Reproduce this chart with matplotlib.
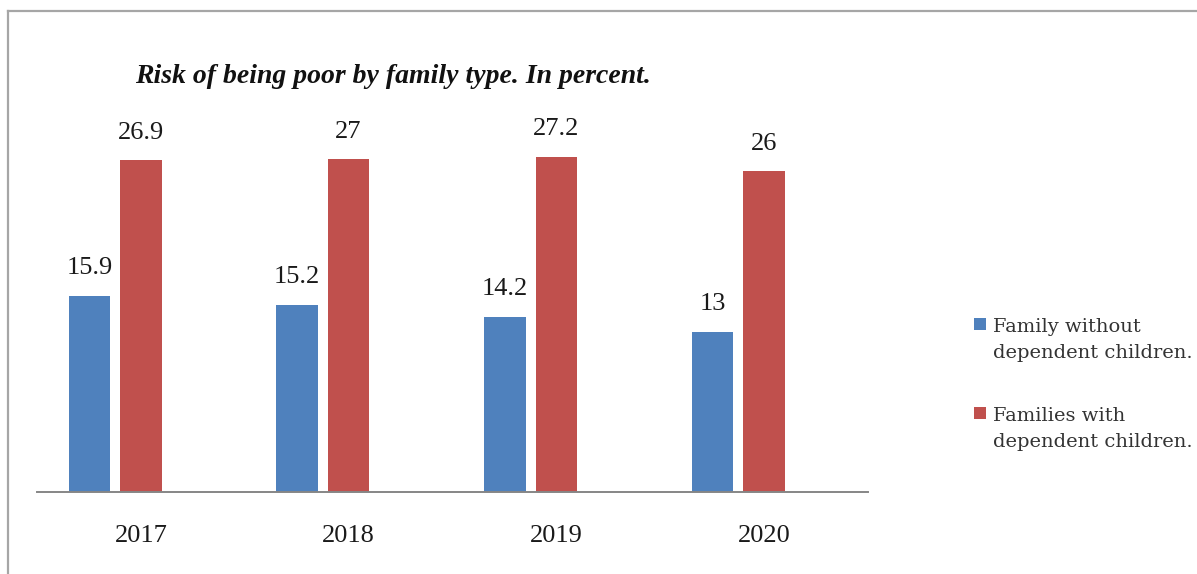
#!/usr/bin/env python
# coding: utf-8

"""Risk of being poor by family type, grouped bar chart."""

import matplotlib
matplotlib.use("Agg")
import matplotlib.pyplot as plt
from matplotlib.lines import Line2D
from matplotlib.patches import Rectangle
import numpy as np

years = ["2017", "2018", "2019", "2020"]
without_children = [15.9, 15.2, 14.2, 13]
with_children = [26.9, 27, 27.2, 26]
series_names = ["Family without\ndependent children.", "Families with\ndependent children."]

BLUE = "#4F81BD"
RED = "#C0504D"
W, H = 1197, 574


def fmt(v: float) -> str:
    return f"{v:g}"


def main() -> None:
    fig = plt.figure(figsize=(W / 100, H / 100), dpi=100)
    fig.patch.set_facecolor("white")

    # outer chart frame (only left and top edges visible in the crop)
    frame_kw = dict(color="#A6A6A6", lw=1.6, transform=fig.transFigure)
    fig.add_artist(Line2D([8 / W, 8 / W], [0, 1 - 11 / H], **frame_kw))
    fig.add_artist(Line2D([8 / W, 1], [1 - 11 / H, 1 - 11 / H], **frame_kw))

    ax = fig.add_axes([37 / W, 1 - 492 / H, 831 / W, 392 / H])
    x = np.arange(len(years))
    width = 0.2
    b1 = ax.bar(x - 0.248, without_children, width, color=BLUE)
    b2 = ax.bar(x, with_children, width, color=RED)

    for bars, vals in ((b1, without_children), (b2, with_children)):
        for rect, v in zip(bars, vals):
            ax.annotate(
                fmt(v),
                (rect.get_x() + rect.get_width() / 2, rect.get_height()),
                xytext=(0, 12),
                textcoords="offset points",
                ha="center",
                va="bottom",
                fontsize=19,
                family="Liberation Serif",
                color="#1a1a1a",
            )

    ax.set_xlim(-0.5, len(years) - 0.5)
    ax.set_ylim(0, 31.8)
    ax.set_xticks(x)
    ax.set_xticklabels(years, family="Liberation Serif", fontsize=19, color="#1a1a1a")
    ax.tick_params(axis="x", length=0, pad=24)
    ax.set_yticks([])
    for side in ("left", "right", "top"):
        ax.spines[side].set_visible(False)
    ax.spines["bottom"].set_color("#868686")
    ax.spines["bottom"].set_linewidth(1.4)

    fig.text(
        135 / W,
        1 - 83 / H,
        "Risk of being poor by family type. In percent.",
        family="Liberation Serif",
        fontsize=20,
        fontweight="bold",
        fontstyle="italic",
        ha="left",
        va="baseline",
        color="#111111",
    )

    # legend drawn by hand: square sits beside the first line, as in the source
    for color, label, top in ((BLUE, series_names[0], 318), (RED, series_names[1], 407)):
        fig.add_artist(
            Rectangle((974 / W, 1 - (top + 12) / H), 12 / W, 12 / H,
                      facecolor=color, edgecolor="none", transform=fig.transFigure)
        )
        # baseline of the last line of the label
        fig.text(
            993 / W,
            1 - (top + 40) / H,
            label,
            family="DejaVu Serif",
            fontsize=14,
            color="#333333",
            ha="left",
            va="baseline",
            linespacing=1.55,
        )

    fig.savefig("out.png", dpi=100)
    plt.close(fig)


if __name__ == "__main__":
    main()
